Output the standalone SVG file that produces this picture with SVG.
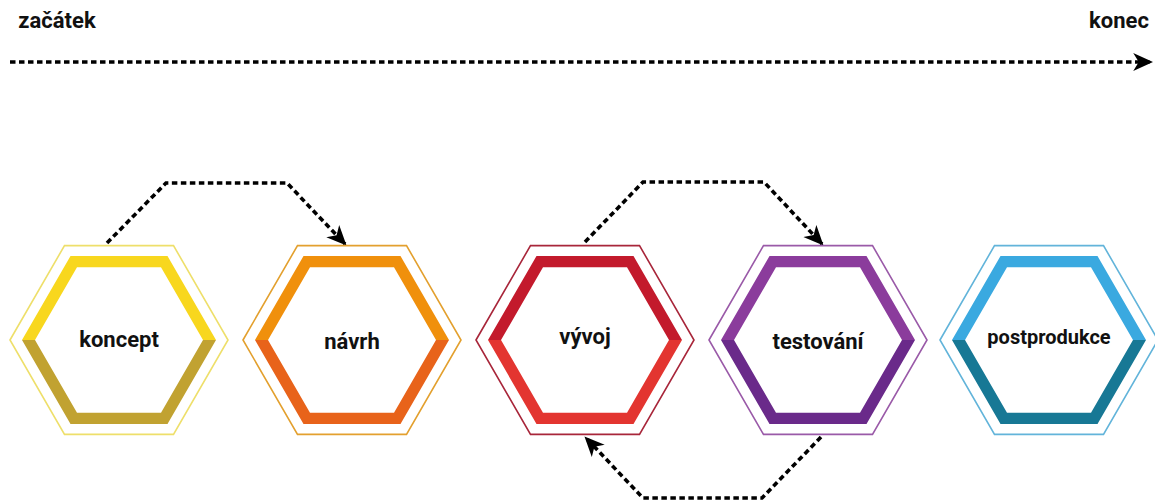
<svg xmlns="http://www.w3.org/2000/svg" xmlns:xlink="http://www.w3.org/1999/xlink" width="1155" height="502" viewBox="0 0 1155 502">
<style>
.lbl{font-family:Roboto,"Liberation Sans",sans-serif;font-weight:700;fill:#111;text-anchor:middle}
.conn{fill:none;stroke:#000;stroke-width:3.6;stroke-dasharray:5.5 3.5}
.outline{fill:#fff;stroke-width:1.6}
</style>
<defs>
<path id="hexOut" d="M-109,0 L-54.5,-94.4 L54.5,-94.4 L109,0 L54.5,94.4 L-54.5,94.4 Z"/>
<path id="bandTop" d="M-97,0 L-48.5,-84 L48.5,-84 L97,0 L84,0 L42,-72.7 L-42,-72.7 L-84,0 Z"/>
<path id="bandBot" d="M-97,0 L-48.5,84 L48.5,84 L97,0 L84,0 L42,72.7 L-42,72.7 L-84,0 Z"/>
<marker id="arr" markerUnits="userSpaceOnUse" markerWidth="20" markerHeight="20" viewBox="0 0 18 18" refX="16" refY="9" orient="auto">
<path d="M0,1 L18,9 L0,17 L5,9 Z" fill="#000"/>
</marker>
</defs>
<rect width="1155" height="502" fill="#fff"/>
<g id="timeline">
<text class="lbl" x="57" y="28" font-size="22">začátek</text>
<text class="lbl" x="1119" y="28" font-size="22">konec</text>
</g>
<g id="connectors">
<path class="conn" d="M10,62 L1151,62" marker-end="url(#arr)"/>
<path class="conn" d="M107,243 L166,183 L287,183 L345,244" marker-end="url(#arr)"/>
<path class="conn" d="M585,242 L643,182 L764,182 L822,244" marker-end="url(#arr)"/>
<path class="conn" d="M821,437 L762,498 L643,498 L586,438" marker-end="url(#arr)"/>
</g>
<g id="koncept" transform="translate(119,340)">
<use xlink:href="#hexOut" class="outline" stroke="#EEDF6A"/>
<use xlink:href="#bandTop" fill="#F8D71E"/>
<use xlink:href="#bandBot" fill="#C1A231"/>
<text class="lbl" x="0" y="7" font-size="22">koncept</text>
</g>
<g id="navrh" transform="translate(352,340)">
<use xlink:href="#hexOut" class="outline" stroke="#E3A02E"/>
<use xlink:href="#bandTop" fill="#F0900C"/>
<use xlink:href="#bandBot" fill="#E8631A"/>
<text class="lbl" x="0" y="9" font-size="22">návrh</text>
</g>
<g id="vyvoj" transform="translate(585,340)">
<use xlink:href="#hexOut" class="outline" stroke="#A8263A"/>
<use xlink:href="#bandTop" fill="#C31A2C"/>
<use xlink:href="#bandBot" fill="#E33530"/>
<text class="lbl" x="0" y="4" font-size="22">vývoj</text>
</g>
<g id="testovani" transform="translate(818,340)">
<use xlink:href="#hexOut" class="outline" stroke="#9A5AA8"/>
<use xlink:href="#bandTop" fill="#8B3C9C"/>
<use xlink:href="#bandBot" fill="#6A2A8A"/>
<text class="lbl" x="0" y="9" font-size="22">testování</text>
</g>
<g id="postprodukce" transform="translate(1049,340)">
<use xlink:href="#hexOut" class="outline" stroke="#62B4DA"/>
<use xlink:href="#bandTop" fill="#3AA9E0"/>
<use xlink:href="#bandBot" fill="#177895"/>
<text class="lbl" x="0" y="4" font-size="20">postprodukce</text>
</g>
</svg>
